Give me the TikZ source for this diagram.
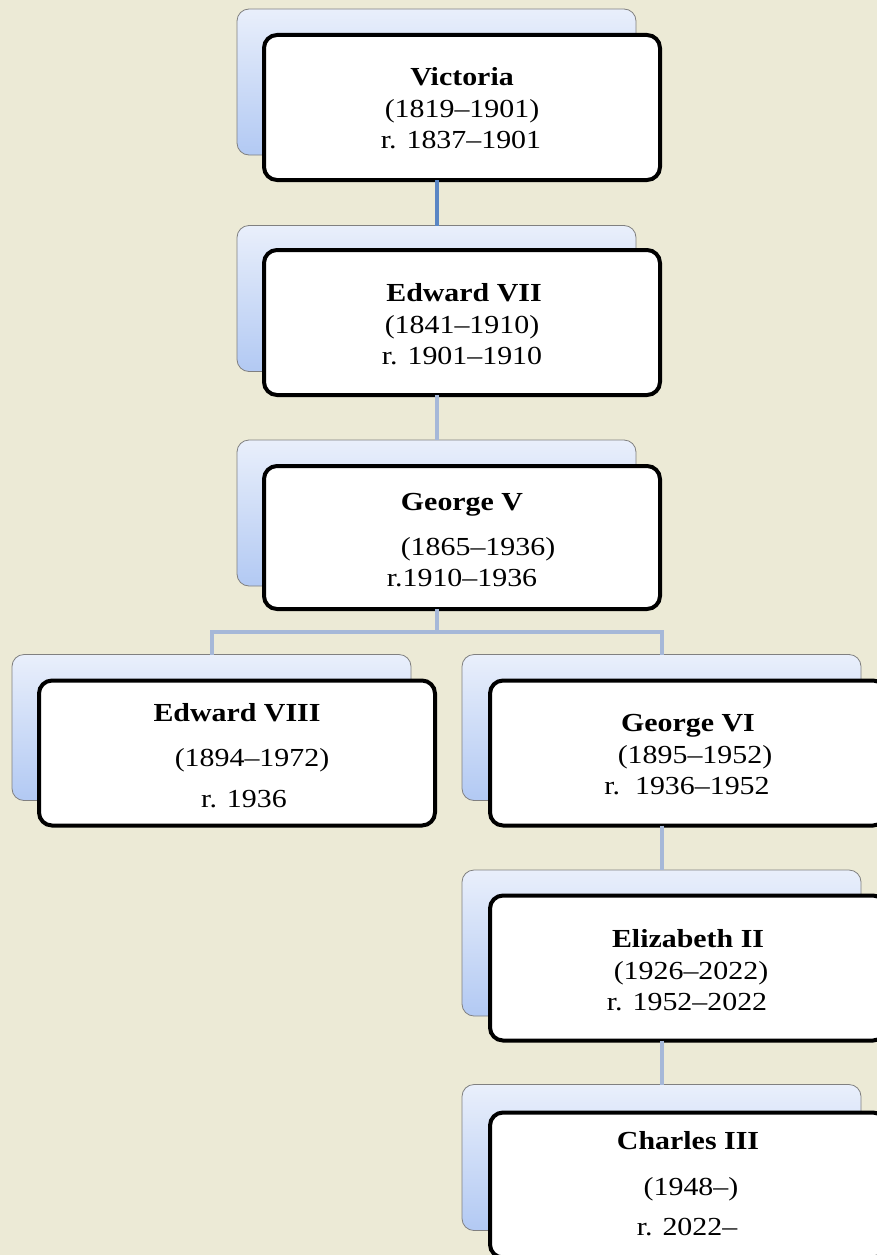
\documentclass[tikz,border=0pt]{standalone}
\usepackage{fontspec}
\setmainfont{Liberation Serif}[FakeStretch=1.15]
\usetikzlibrary{shadows}
\definecolor{bgcol}{HTML}{ECEAD6}
\definecolor{backtop}{HTML}{E9EFFB}
\definecolor{backbot}{HTML}{B2C9F3}
\definecolor{linkdark}{HTML}{5A86C4}
\definecolor{linklight}{HTML}{A6B8D8}
\tikzset{
  backbox/.style={rectangle, rounded corners=12pt, draw=black!50, line width=0.8pt,
    top color=backtop, bottom color=backbot, minimum width=399pt, minimum height=146pt,
    inner sep=0pt, outer sep=0pt},
  frontbox/.style={rectangle, rounded corners=13pt, draw=black, line width=4pt, fill=white,
    minimum width=396pt, minimum height=145pt, inner sep=0pt, outer sep=0pt},
  nametxt/.style={anchor=base, inner sep=0pt, font=\fontsize{26}{31}\selectfont\bfseries},
  datetxt/.style={anchor=base, inner sep=0pt, font=\fontsize{26}{31}\selectfont},
  linkd/.style={draw=linkdark, line width=4pt},
  linkl/.style={draw=linklight, line width=4pt},
}
\begin{document}
\begin{tikzpicture}[x=1pt, y=-1pt]
\useasboundingbox (0,0) rectangle (877,1255);
\clip (0,0) rectangle (877,1255);
\fill[bgcol] (0,0) rectangle (877,1255);

% back boxes
\node[backbox] (vicB) at (436.5,82) {};
\node[backbox] (ed7B) at (436.5,298.5) {};
\node[backbox] (geo5B) at (436.5,513) {};
\node[backbox] (ed8B) at (211.5,727.5) {};
\node[backbox] (geo6B) at (661.5,727.5) {};
\node[backbox] (elizB) at (661.5,943) {};
\node[backbox] (charB) at (661.5,1157.5) {};

% front boxes
\node[frontbox] (vicF) at (462,107.5) {};
\node[frontbox] (ed7F) at (462,322.5) {};
\node[frontbox, minimum height=143pt] (geo5F) at (462,537.5) {};
\node[frontbox] (ed8F) at (237,753) {};
\node[frontbox] (geo6F) at (688,753) {};
\node[frontbox] (elizF) at (688,968) {};
\node[frontbox] (charF) at (688,1185) {};

% connectors
\begin{scope}[on background layer/.style={}]
\draw[linkd] (vicB.center |- vicF.south) -- (ed7B.north);
\draw[linkl] (ed7B.center |- ed7F.south) -- (geo5B.north);
\coordinate (branch) at (436.5,632);
\draw[linkl] (geo5B.center |- geo5F.south) -- (branch);
\draw[linkl] (branch) -| (ed8B.north);
\draw[linkl] (branch) -| (geo6B.north);
\draw[linkl] (geo6B.center |- geo6F.south) -- (elizB.north);
\draw[linkl] (elizB.center |- elizF.south) -- (charB.north);
\end{scope}

% texts
\node[nametxt] (vicN) at (462,85) {Victoria};
\node[datetxt] (vicL) at (462,117) {(1819–1901)};
\node[datetxt] (vicR) at (461,148) {r. 1837–1901};

\node[nametxt] (ed7N) at (464,301) {Edward VII};
\node[datetxt] (ed7L) at (462,333) {(1841–1910)};
\node[datetxt] (ed7R) at (462,364) {r. 1901–1910};

\node[nametxt] (geo5N) at (462,510) {George V};
\node[datetxt] (geo5L) at (478,555) {(1865–1936)};
\node[datetxt] (geo5R) at (462,586) {r.1910–1936};

\node[nametxt] (ed8N) at (237,721) {Edward VIII};
\node[datetxt] (ed8L) at (252,766) {(1894–1972)};
\node[datetxt] (ed8R) at (244,807) {r. 1936};

\node[nametxt] (geo6N) at (688,731) {George VI};
\node[datetxt] (geo6L) at (695,763) {(1895–1952)};
\node[datetxt] (geo6R) at (687,794) {r.\ \ 1936–1952};

\node[nametxt] (elizN) at (688,947) {Elizabeth II};
\node[datetxt] (elizL) at (691,979) {(1926–2022)};
\node[datetxt] (elizR) at (687,1010) {r. 1952–2022};

\node[nametxt] (charN) at (688,1149) {Charles III};
\node[datetxt] (charL) at (691,1195) {(1948–)};
\node[datetxt] (charR) at (687,1235) {r. 2022–};
\end{tikzpicture}
\end{document}
